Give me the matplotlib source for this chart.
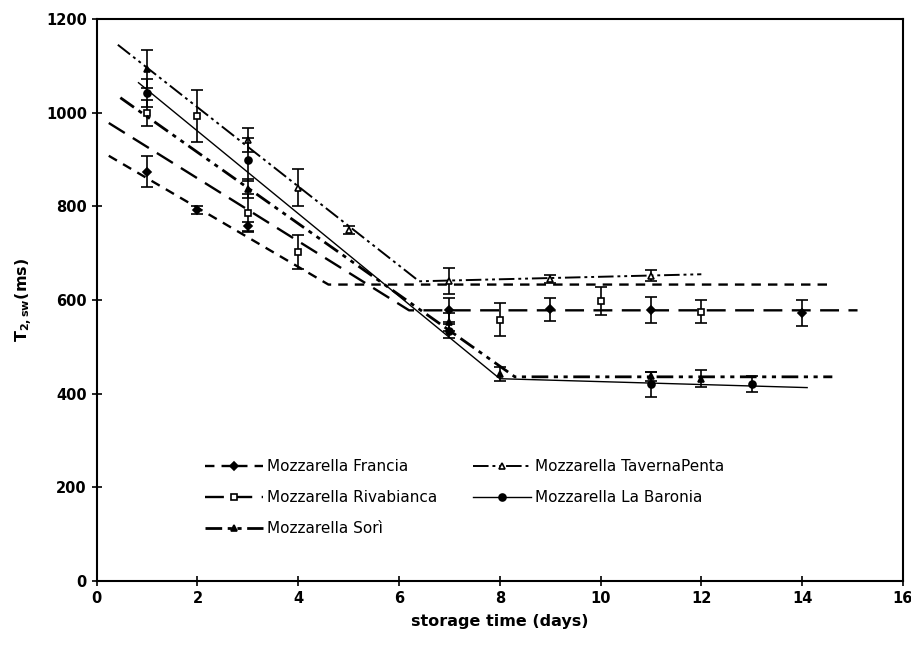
import matplotlib
matplotlib.use('Agg')
import matplotlib.pyplot as plt
from matplotlib.lines import Line2D

# measured points (day, T2sw in ms, error)
francia_days = [1, 2, 3, 7, 9, 11, 14]
francia_t2 = [874, 792, 757, 579, 580, 578, 573]
francia_err = [33, 8, 10, 26, 25, 28, 28]

riva_days = [1, 2, 3, 4, 8, 10, 12]
riva_t2 = [1000, 993, 786, 703, 558, 598, 575]
riva_err = [28, 55, 40, 36, 35, 30, 25]

taverna_days = [3, 4, 5, 7, 9, 11]
taverna_t2 = [942, 840, 750, 640, 645, 652]
taverna_err = [25, 40, 8, 28, 8, 12]

baronia_days = [1, 3, 7, 11, 13]
baronia_t2 = [1043, 900, 533, 420, 420]
baronia_err = [30, 45, 15, 27, 17]

sori_days = [1, 3, 7, 8, 11, 12]
sori_t2 = [1093, 838, 553, 443, 437, 432]
sori_err = [40, 20, 20, 15, 10, 18]

# two-phase fitted lines (knots)
francia_fit_x = [0.24, 4.6, 14.6]
francia_fit_y = [908, 633, 633]
riva_fit_x = [0.24, 6.2, 15.1]
riva_fit_y = [978, 578, 578]
taverna_fit_x = [0.42, 6.4, 12.0]
taverna_fit_y = [1145, 640, 655]
baronia_fit_x = [0.83, 8.0, 14.1]
baronia_fit_y = [1064, 432, 413]
sori_fit_x = [0.47, 8.3, 14.6]
sori_fit_y = [1032, 436, 436]

series = [
    ('Mozzarella Francia', francia_days, francia_t2, francia_err, francia_fit_x, francia_fit_y,
     dict(marker='D', mfc='black', ms=4), (0, (4, 3)), 1.7),
    ('Mozzarella Rivabianca', riva_days, riva_t2, riva_err, riva_fit_x, riva_fit_y,
     dict(marker='s', mfc='white', ms=5), (0, (8, 4)), 1.7),
    ('Mozzarella Sorì', sori_days, sori_t2, sori_err, sori_fit_x, sori_fit_y,
     dict(marker='^', mfc='black', ms=5), (0, (6, 2, 1.5, 2, 1.5, 2)), 2.0),
    ('Mozzarella TavernaPenta', taverna_days, taverna_t2, taverna_err, taverna_fit_x, taverna_fit_y,
     dict(marker='^', mfc='white', ms=5), (0, (8, 2, 1.5, 2, 1.5, 2)), 1.4),
    ('Mozzarella La Baronia', baronia_days, baronia_t2, baronia_err, baronia_fit_x, baronia_fit_y,
     dict(marker='o', mfc='black', ms=5), '-', 1.0),
]

fig = plt.figure(figsize=(9.12, 6.45), dpi=100)
ax = fig.add_axes([0.106, 0.0992, 0.884, 0.8713])

handles = []
for name, d, v, e, fx, fy, mk, ls, lw in series:
    ax.plot(fx, fy, color='black', linestyle=ls, linewidth=lw)
    ax.errorbar(d, v, yerr=e, fmt='none', ecolor='black', elinewidth=1.2, capsize=4, capthick=1.2)
    ax.plot(d, v, linestyle='none', color='black', mec='black', mew=1.2, **mk)
    handles.append(Line2D([], [], color='black', linestyle=ls, linewidth=lw, mec='black', mew=1.2, **mk))

ax.set_xlim(0, 16)
ax.set_ylim(0, 1200)
ax.set_xticks(range(0, 17, 2))
ax.set_yticks(range(0, 1201, 200))
ax.tick_params(direction='inout', length=7, width=1.2, labelsize=10.5)
for lab in ax.get_xticklabels() + ax.get_yticklabels():
    lab.set_fontweight('bold')
for sp in ax.spines.values():
    sp.set_linewidth(1.5)

ax.set_xlabel('storage time (days)', fontsize=11.5, fontweight='bold', labelpad=6)
ax.set_ylabel(r'T$_{\mathbf{2,sw}}$(ms)', fontsize=11.5, fontweight='bold', labelpad=8)

ax.legend(handles, [s[0] for s in series], ncol=2, loc='upper left',
          bbox_to_anchor=(0.134, 0.217), frameon=False, fontsize=11,
          handlelength=3.8, handletextpad=0.3, labelspacing=1.05,
          columnspacing=2.3, borderpad=0, borderaxespad=0)

fig.savefig('out.png', dpi=100)
